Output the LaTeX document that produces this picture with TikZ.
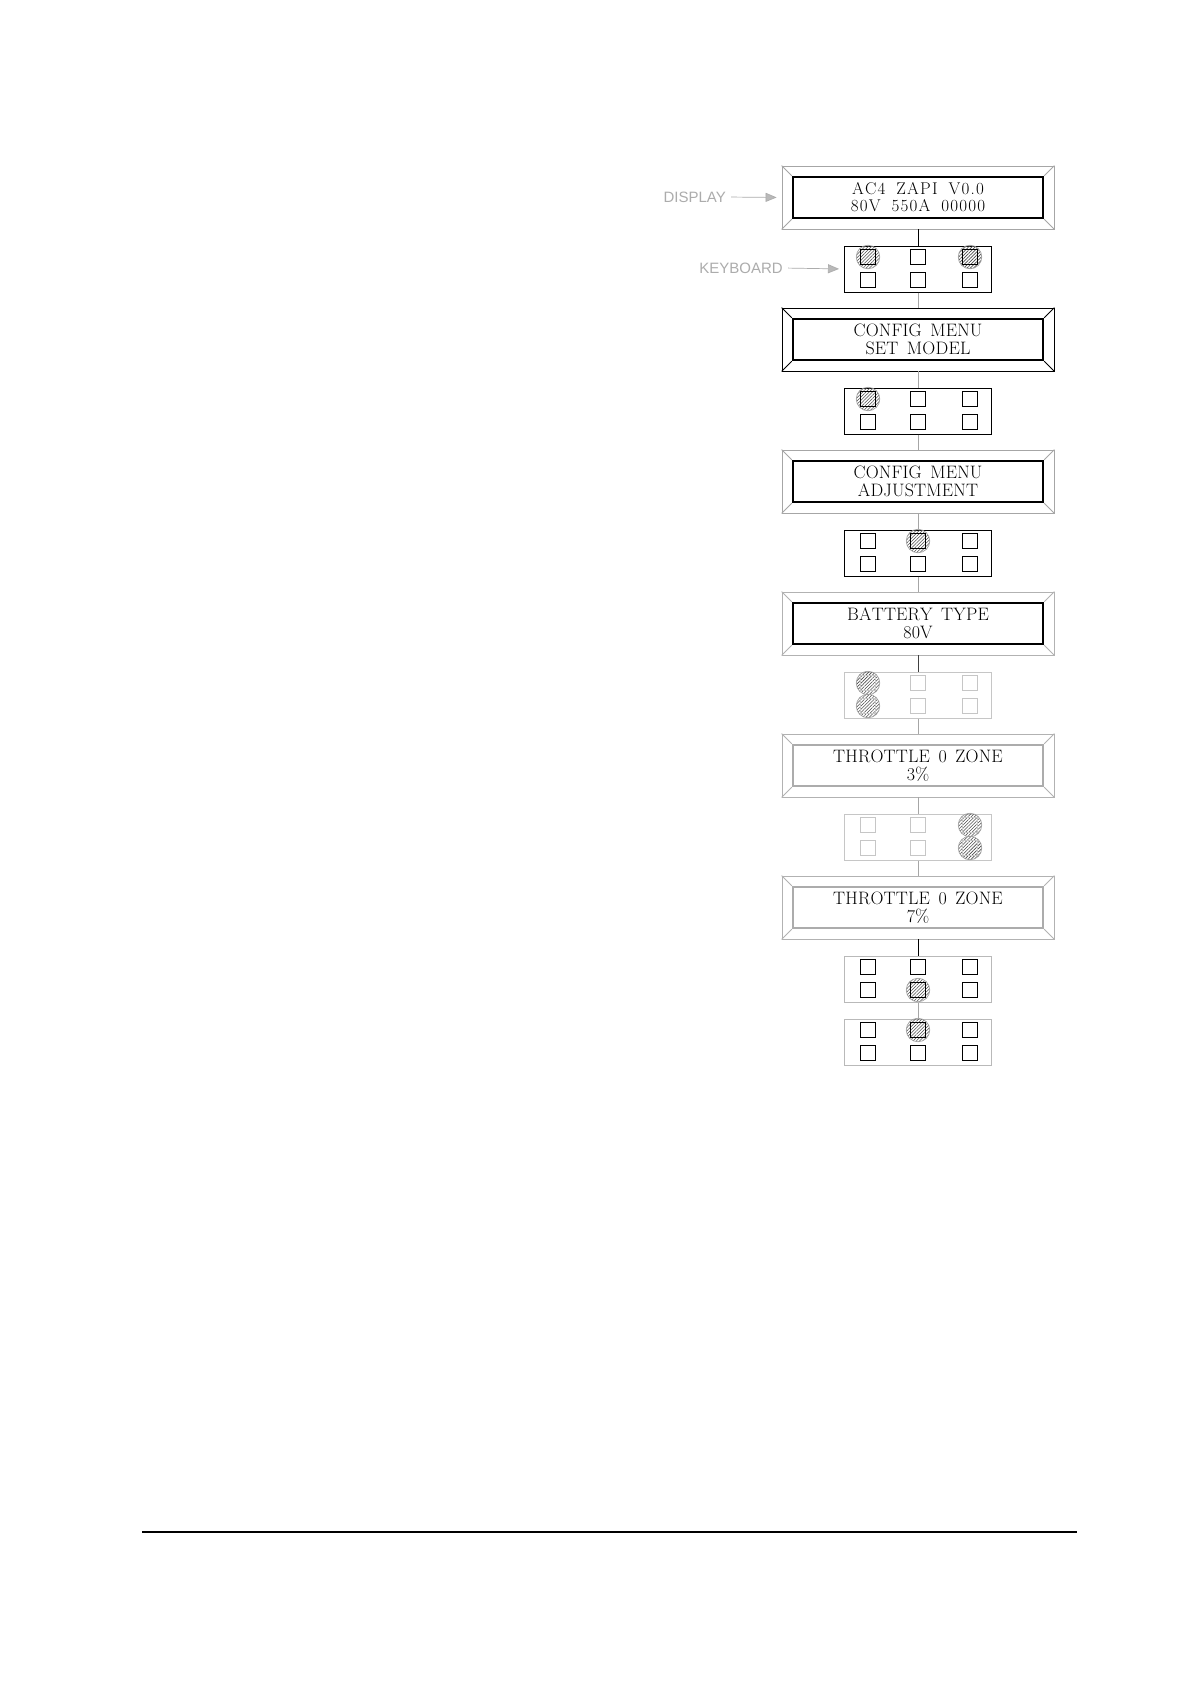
\documentclass[tikz,border=0pt]{standalone}
\usepackage{fontspec}
\newfontfamily\labfont{Liberation Sans}
\usetikzlibrary{arrows.meta,patterns.meta}
\def\trkamt{0pt}
\def\wsp{8pt}
\def\trk#1{\ifx#1\relax\unkern\else\ifx#1|\unkern\hspace{\wsp}\else#1\kern\trkamt\fi\expandafter\trk\fi}
\tikzset{
  dispout/.style={draw=#1, line width=0.8pt, minimum width=272pt, minimum height=63pt, inner sep=0pt},
  dispin/.style={draw=#1, line width=2.4pt, minimum width=250pt, minimum height=41pt, inner sep=0pt, align=center},
  bevel/.style={draw=#1, line width=0.8pt},
  kbd/.style={draw=#1, line width=1pt, minimum width=147pt, minimum height=46pt, inner sep=0pt},
  keysq/.style={draw=#1, line width=1.1pt, minimum size=15pt, inner sep=0pt},
  press/.style={circle, minimum size=23.5pt, inner sep=0pt, draw=gray!75, line width=0.7pt,
    pattern={Lines[angle=45,distance=2.3pt,line width=0.55pt]}, pattern color=gray!60!black},
  link/.style={draw=#1, line width=0.9pt},
  lab/.style={font=\labfont\fontsize{15}{17}\selectfont, text=gray!65, inner sep=0pt, anchor=east},
  labarrow/.style={draw=gray!65, line width=0.7pt, shorten <=5pt, shorten >=5pt,
    -{Triangle[length=11pt,width=9pt,fill=gray!55]}},
  bigtxt/.style={font=\fontsize{18}{18}\selectfont\def\trkamt{0.2pt}\def\wsp{8.5pt}},
  smalltxt/.style={font=\fontsize{17}{17}\selectfont\def\trkamt{1.2pt}\def\wsp{11pt}},
}
\newcommand\mydisp[6]{%
  \node[dispout=#3] (#1) at (918,#2) {};
  \node[dispin=#4, #5] (#1i) at (#1.center) {#6};
  \foreach \dc in {north west,north east,south west,south east}{\draw[bevel=#3] (#1.\dc) -- (#1i.\dc);}
}
\newcommand\mykbd[5]{%
  \node[kbd=#3] (#1) at (918,#2) {};
  \foreach \kc/\dx in {a/-50,b/0,c/52}{\foreach \kr/\dy in {1/-12,2/11}{\coordinate (#1\kc\kr) at ([shift={(\dx,\dy)}]#1.center);}}
  \foreach \pk in {#5}{\node[press] (#1p\pk) at (#1\pk) {};}
  \foreach \kc in {a,b,c}{\foreach \kr in {1,2}{\node[keysq=#4] (#1key\kc\kr) at (#1\kc\kr) {};}}
}
\begin{document}
\begin{tikzpicture}[x=1pt,y=-1pt]
\useasboundingbox[fill=white] (0,0) rectangle (1190,1684);
% displays
\mydisp{d1}{197.5}{gray!70}{black}{smalltxt}{\trk AC4|ZAPI|V0.0\relax\\\trk 80V|550A|00000\relax}
\mydisp{d2}{339.5}{black}{black}{bigtxt}{\trk CONFIG|MENU\relax\\\trk SET|MODEL\relax}
\mydisp{d3}{481.5}{gray!70}{black}{bigtxt}{\trk CONFIG|MENU\relax\\\trk ADJUSTMENT\relax}
\mydisp{d4}{623.5}{gray!60}{black}{bigtxt}{\trk BATTERY|TYPE\relax\\\trk 80V\relax}
\mydisp{d5}{765.5}{gray!60}{gray!65}{bigtxt}{\trk THROTTLE|0|ZONE\relax\\\trk 3\%\relax}
\mydisp{d6}{907.5}{gray!60}{gray!65}{bigtxt}{\trk THROTTLE|0|ZONE\relax\\\trk 7\%\relax}
% keyboards
\mykbd{k1}{269}{black}{black}{a1,c1}
\mykbd{k2}{411}{black}{black}{a1}
\mykbd{k3}{553}{black}{black}{b1}
\mykbd{k4}{695}{gray!45}{gray!45}{a1,a2}
\mykbd{k5}{837}{gray!45}{gray!45}{c1,c2}
\mykbd{k6}{979}{gray!55}{black}{b2}
\mykbd{k7}{1042}{gray!55}{black}{b1}
% connectors
\draw[link=black] (d1.south) -- (k1.north);
\draw[link=gray!70] (k1.south) -- (d2.north);
\draw[link=gray!70] (d2.south) -- (k2.north);
\draw[link=gray!70] (k2.south) -- (d3.north);
\draw[link=gray!70] (d3.south) -- (k3.north);
\draw[link=gray!70] (k3.south) -- (d4.north);
\draw[link=gray!50!black] (d4.south) -- (k4.north);
\draw[link=gray!70] (k4.south) -- (d5.north);
\draw[link=gray!70] (d5.south) -- (k5.north);
\draw[link=gray!70] (k5.south) -- (d6.north);
\draw[link=black] (d6.south) -- (k6.north);
\draw[link=gray!70] (k6.south) -- (k7.north);
% labels
\node[lab] (ld) at (726,197) {DISPLAY};
\node[lab] (lk) at (783,268) {KEYBOARD};
\draw[labarrow] (ld.east) -- (d1.west);
\draw[labarrow] (lk.east) -- (k1.west);
% bottom rule
\coordinate (rl) at (142,1532);
\coordinate (rr) at (1077,1532);
\draw[line width=2.8pt] (rl) -- (rr);
\end{tikzpicture}
\end{document}
